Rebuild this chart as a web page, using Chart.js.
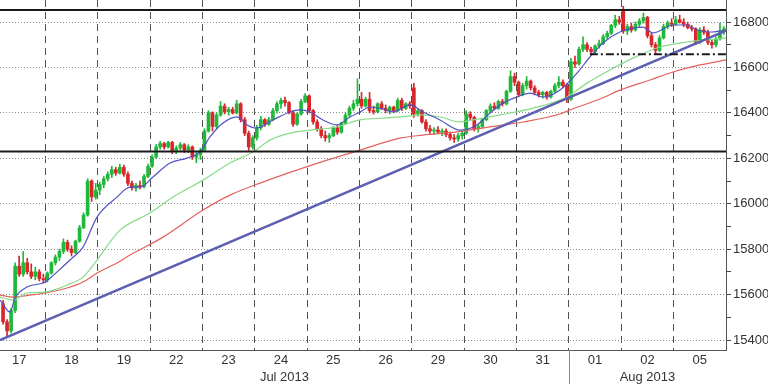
<!DOCTYPE html>
<html><head><meta charset="utf-8">
<script src="https://cdn.jsdelivr.net/npm/chart.js@4"></script>
<style>html,body{margin:0;padding:0;background:#fff;}#wrap{width:768px;height:384px;position:relative;}</style>
</head><body><div id="wrap"><canvas id="c" width="768" height="384"></canvas></div>
<script>
// ---- categories / labels ----
const dayLabels = ['17','18','19','22','23','24','25','26','29','30','31','01','02','05'];
const monthLabels = ['Jul 2013','Aug 2013'];
const monthStartDay = [0, 11];
const barsPerDay = 13;
const firstBarSlot = 2;
const xStart = 0.134;
const yMin = 15356, yMax = 16897;
const yTickLabels = [15400,15600,15800,16000,16200,16400,16600,16800];
const yMinorTicks = [15500,15700,15900,16100,16300,16500,16700];

// ---- 30-minute candles (OHLC) ----
const opens = [
15560,15480,15440,15530,15725,15690,15740,15700,15680,15700,15670,
15665,15695,15740,15765,15790,15830,15800,15785,15835,15895,15950,16100,16030,
16060,16085,16110,16130,16150,16135,16160,16130,16090,16070,16080,16075,16120,
16165,16205,16250,16265,16250,16270,16230,16245,16260,16235,16250,16205,16215,
16235,16320,16400,16340,16390,16430,16405,16415,16400,16440,16370,16310,16250,
16290,16335,16370,16350,16370,16410,16440,16455,16445,16400,16350,16395,16450,
16475,16410,16360,16330,16300,16290,16300,16335,16315,16355,16390,16420,16440,
16460,16430,16460,16410,16405,16440,16420,16410,16425,16410,16455,16420,16440,
16510,16395,16410,16360,16330,16320,16325,16315,16320,16305,16290,16285,16300,
16310,16395,16380,16330,16340,16370,16410,16430,16420,16450,16440,16495,16560,
16535,16480,16520,16540,16510,16490,16480,16490,16470,16495,16520,16535,16520,
16460,16625,16615,16680,16700,16680,16670,16695,16705,16735,16750,16785,16810,
16850,16760,16780,16765,16790,16805,16820,16740,16700,16675,16730,16780,16795,
16790,16810,16800,16790,16775,16770,16710,16765,16755,16710,16700,16725,16760];
const highs = [
15575,15490,15540,15740,15770,15790,15760,15735,15720,15710,15690,
15700,15745,15775,15800,15845,15840,15815,15840,15905,15960,16110,16105,16090,
16095,16120,16140,16165,16160,16175,16170,16140,16100,16090,16100,16130,16175,
16215,16260,16275,16270,16275,16275,16255,16270,16265,16260,16255,16230,16245,
16330,16410,16405,16400,16450,16440,16425,16425,16455,16445,16380,16320,16300,
16345,16385,16375,16380,16420,16450,16465,16470,16450,16410,16400,16460,16485,
16480,16415,16370,16340,16320,16310,16340,16345,16360,16400,16430,16455,16550,
16490,16470,16490,16430,16445,16450,16435,16430,16430,16465,16465,16445,16450,
16530,16420,16415,16370,16345,16335,16340,16330,16330,16315,16305,16310,16320,
16410,16405,16385,16350,16375,16415,16440,16445,16455,16460,16500,16585,16575,
16540,16530,16560,16545,16520,16500,16495,16495,16500,16530,16560,16545,16530,
16640,16650,16690,16735,16710,16690,16700,16720,16745,16760,16790,16830,16825,
16870,16790,16795,16800,16815,16840,16825,16750,16710,16740,16790,16805,16815,
16825,16830,16815,16800,16785,16775,16775,16780,16765,16720,16735,16795,16780];
const lows = [
15470,15410,15430,15520,15680,15680,15690,15670,15665,15660,15650,
15655,15690,15730,15750,15780,15790,15770,15780,15830,15890,15945,16010,16020,
16040,16070,16100,16115,16125,16130,16120,16080,16060,16055,16065,16070,16115,
16160,16200,16240,16240,16245,16220,16220,16235,16225,16225,16195,16180,16195,
16230,16315,16320,16330,16385,16395,16390,16395,16395,16360,16300,16235,16240,
16280,16325,16340,16345,16365,16400,16420,16430,16395,16340,16345,16390,16445,
16400,16350,16320,16290,16275,16270,16295,16305,16310,16350,16385,16410,16430,
16420,16425,16400,16395,16400,16415,16400,16395,16400,16405,16410,16415,16420,
16380,16385,16355,16320,16310,16305,16310,16300,16295,16280,16270,16275,16285,
16305,16370,16320,16315,16335,16365,16400,16415,16415,16430,16435,16490,16520,
16470,16475,16505,16500,16480,16470,16465,16460,16465,16490,16510,16510,16445,
16455,16600,16610,16670,16670,16655,16660,16685,16700,16725,16745,16775,16790,
16750,16745,16755,16760,16780,16795,16730,16690,16660,16670,16725,16770,16780,
16785,16795,16780,16770,16760,16700,16705,16745,16700,16685,16690,16720,16745];
const closes = [
15480,15440,15530,15725,15690,15740,15700,15680,15700,15670,15665,
15695,15740,15765,15790,15830,15800,15785,15835,15895,15950,16100,16030,16060,
16085,16110,16130,16150,16135,16160,16130,16090,16070,16080,16075,16120,16165,
16205,16250,16265,16250,16270,16230,16245,16260,16235,16250,16205,16215,16235,
16320,16400,16340,16390,16430,16405,16415,16400,16440,16370,16310,16250,16290,
16335,16370,16350,16370,16410,16440,16455,16445,16400,16350,16395,16450,16475,
16410,16360,16330,16300,16290,16300,16335,16315,16355,16390,16420,16440,16460,
16430,16460,16410,16405,16440,16420,16410,16425,16410,16455,16420,16440,16430,
16395,16410,16360,16330,16320,16325,16315,16320,16305,16290,16285,16300,16310,
16395,16380,16330,16340,16370,16410,16430,16420,16450,16440,16495,16560,16535,
16480,16520,16540,16510,16490,16480,16490,16470,16495,16520,16535,16520,16460,
16625,16615,16680,16700,16680,16670,16695,16705,16735,16750,16785,16810,16800,
16760,16780,16765,16790,16805,16820,16740,16700,16675,16730,16780,16795,16790,
16810,16800,16790,16775,16770,16710,16765,16755,16710,16700,16725,16760,16770];

// ---- moving averages (x in trading-day units, y values) ----
const fastMaX = [0.134,0.325,0.42,0.65,0.993,1.22,1.47,1.72,1.987,2.368,2.617,2.808,3.056,3.381,3.705,3.954,4.145,4.393,4.66,4.851,5.042,5.348,5.673,5.864,6.055,6.303,6.57,6.818,7.01,7.2,7.449,7.64,7.965,8.213,8.537,8.919,9.244,9.492,9.741,10.008,10.256,10.505,10.83,11.154,11.402,11.65,11.975,12.414,12.605,12.987,13.255,13.446,13.694,14.0];
const fastMaY = [15576,15523,15585,15633,15655,15699,15752,15809,15941,16029,16073,16073,16118,16179,16201,16228,16294,16355,16382,16347,16333,16369,16404,16413,16404,16369,16347,16382,16404,16426,16417,16404,16435,16404,16369,16324,16347,16399,16443,16470,16487,16470,16501,16575,16646,16708,16756,16778,16752,16787,16787,16765,16756,16765];
const midMaX = [0.134,0.382,0.65,0.993,1.414,1.719,1.987,2.235,2.426,2.999,3.438,4.011,4.527,4.966,5.291,5.673,6.055,6.57,7.01,7.449,7.773,8.213,8.537,8.919,9.168,9.683,10.314,10.963,11.345,11.784,12.223,12.739,13.255,13.637,14.0];
const midMaY = [15589,15576,15607,15611,15642,15677,15752,15831,15884,15959,16030,16104,16179,16228,16280,16311,16324,16338,16369,16377,16382,16391,16382,16360,16369,16391,16421,16470,16531,16589,16641,16690,16712,16721,16730];
const slowMaX = [0.134,0.382,0.707,0.993,1.414,1.719,1.987,2.368,2.617,3.247,4.011,4.527,5.1,6.379,7.01,7.773,8.213,8.862,9.492,10.123,10.829,11.02,11.593,11.975,12.548,12.987,13.503,14.0];
const slowMaY = [15598,15589,15598,15607,15629,15655,15695,15739,15774,15853,15972,16038,16091,16192,16236,16289,16302,16316,16338,16360,16395,16413,16461,16500,16545,16580,16611,16633];

// ---- drawn levels ----
const trendX = [0.134, 14.0];
const trendY = [15400, 16762];
const resistanceLevel = 16853;
const supportLevel = 16230;
const shortSupportLevel = 16658;
const shortSupportFrom = 11.40;

// ---- build ----
const candleX = opens.map((_, k) => (k + firstBarSlot + 0.5) / barsPerDay);
const GREEN = '#1fb83a', RED = '#d8262b';
const candleColors = opens.map((o, k) => closes[k] >= o ? GREEN : RED);
const wickData = candleX.map((x, k) => ({x, y: [lows[k], highs[k]]}));
const bodyData = candleX.map((x, k) => ({x, y: [Math.min(opens[k], closes[k]), Math.max(opens[k], closes[k])]}));
const pts = (xs, ys) => xs.map((x, i) => ({x, y: ys[i]}));
const xEnd = dayLabels.length;
const xTickVals = [];
for (let d = 0; d < dayLabels.length; d++) { xTickVals.push(d + 0.5); if (d + 1 < dayLabels.length) xTickVals.push(d + 1); }
const yTickVals = yTickLabels.concat(yMinorTicks).sort((a, b) => a - b);
const FONT = {family: '"Liberation Sans", Arial, sans-serif', size: 13};

const monthPlugin = {
  id: 'months',
  afterDraw(chart) {
    const {ctx, chartArea} = chart; const x = chart.scales.x;
    ctx.save();
    ctx.strokeStyle = '#8a8a8a'; ctx.lineWidth = 1;
    for (let m = 1; m < monthStartDay.length; m++) {
      const px = Math.round(x.getPixelForValue(monthStartDay[m])) + 0.5;
      ctx.beginPath(); ctx.moveTo(px, chartArea.bottom); ctx.lineTo(px, chart.height); ctx.stroke();
    }
    ctx.fillStyle = '#333'; ctx.font = '13px "Liberation Sans", Arial, sans-serif';
    ctx.textAlign = 'center'; ctx.textBaseline = 'middle';
    for (let m = 0; m < monthLabels.length; m++) {
      const s = Math.max(monthStartDay[m], x.min);
      const e = m + 1 < monthStartDay.length ? monthStartDay[m + 1] : x.max;
      ctx.fillText(monthLabels[m], x.getPixelForValue((s + e) / 2), chartArea.bottom + 27);
    }
    ctx.restore();
  }
};

const lineDs = (data, color, width, order, extra) => Object.assign({
  type: 'line', data, borderColor: color, borderWidth: width, pointRadius: 0,
  fill: false, order, cubicInterpolationMode: 'monotone'
}, extra || {});

new Chart(document.getElementById('c'), {
  type: 'bar',
  data: {
    datasets: [
      {type: 'bar', data: wickData, backgroundColor: candleColors, barThickness: 1, grouped: false, order: 10, borderWidth: 0},
      {type: 'bar', data: bodyData, backgroundColor: candleColors, barThickness: 3, grouped: false, order: 9, borderWidth: 0, minBarLength: 1},
      lineDs(pts(slowMaX, slowMaY), '#e2625f', 1.2, 5),
      lineDs(pts(midMaX, midMaY), '#86dc86', 1.2, 4),
      lineDs(pts(fastMaX, fastMaY), '#4f52c6', 1.2, 3),
      lineDs(pts(trendX, trendY), '#5c5fb2', 2.5, 2),
      lineDs([{x: xStart, y: resistanceLevel}, {x: xEnd, y: resistanceLevel}], '#1a1a1a', 2, 1),
      lineDs([{x: xStart, y: supportLevel}, {x: xEnd, y: supportLevel}], '#1a1a1a', 2, 1),
      lineDs([{x: shortSupportFrom, y: shortSupportLevel}, {x: xEnd, y: shortSupportLevel}], '#1a1a1a', 2, 1, {borderDash: [8, 3, 2, 3]})
    ]
  },
  options: {
    responsive: false, animation: false, devicePixelRatio: 1,
    layout: {padding: 0},
    plugins: {legend: {display: false}, tooltip: {enabled: false}},
    scales: {
      x: {
        type: 'linear', min: xStart, max: xEnd, offset: false,
        grid: {offset: false, drawTicks: false, lineWidth: 1,
          color: c => (c.tick && Number.isInteger(c.tick.value)) ? '#505050' : 'rgba(0,0,0,0)'},
        border: {display: true, color: '#555', width: 1, dash: [7, 5]},
        ticks: {autoSkip: false, maxRotation: 0, padding: 3, color: '#333', font: FONT,
          callback: v => Number.isInteger(v) ? '' : dayLabels[Math.floor(v)]},
        afterBuildTicks: s => { s.ticks = xTickVals.map(v => ({value: v})); },
        afterFit: s => { s.height = 34; s.paddingLeft = 0; s.paddingRight = 0; }
      },
      y: {
        type: 'linear', position: 'right', min: yMin, max: yMax,
        grid: {lineWidth: 1, tickLength: 5, tickColor: '#444',
          color: c => (c.tick && yTickLabels.includes(c.tick.value)) ? '#8c8c8c' : 'rgba(0,0,0,0)'},
        border: {display: true, color: '#555', width: 1, dash: [1, 2]},
        ticks: {padding: 2, color: '#333', font: FONT,
          callback: v => yTickLabels.includes(v) ? String(v) : ''},
        afterBuildTicks: s => { s.ticks = yTickVals.map(v => ({value: v})); },
        afterFit: s => { s.width = 42; s.paddingTop = 0; s.paddingBottom = 0; }
      }
    }
  },
  plugins: [monthPlugin]
});
</script></body></html>
